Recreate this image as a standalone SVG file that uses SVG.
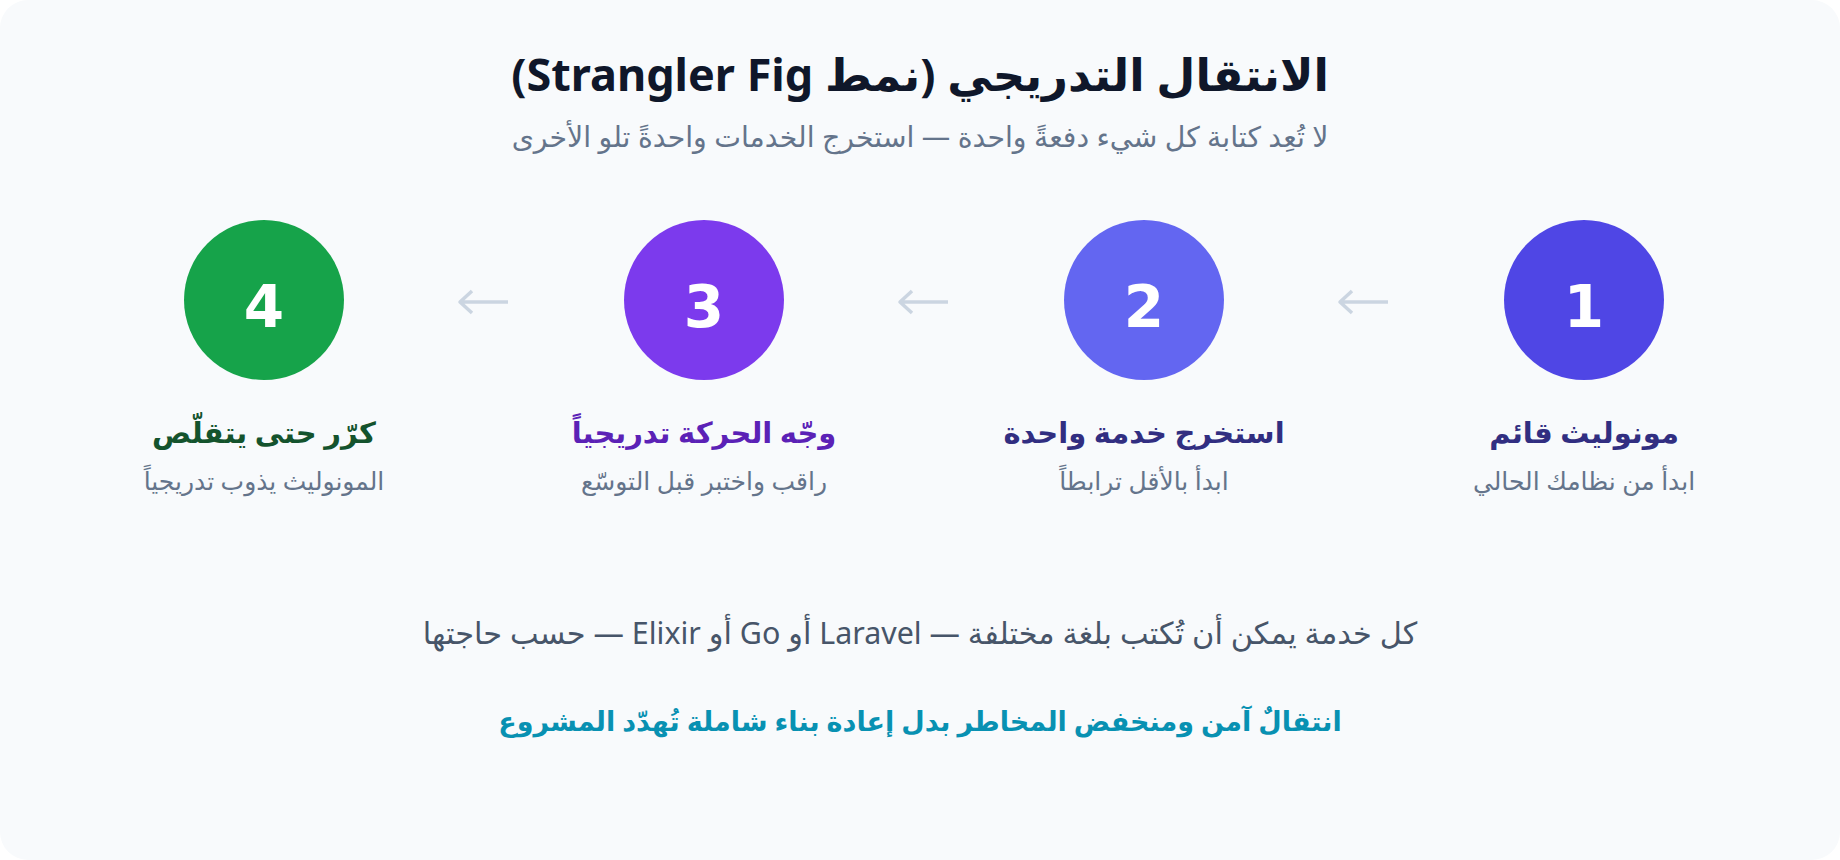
<svg xmlns="http://www.w3.org/2000/svg" width="1840" height="860" viewBox="0 0 1840 860">
<style>
text{font-family:"Noto Sans","DejaVu Sans",sans-serif;text-anchor:middle;direction:rtl}
.title{font-size:45px;font-weight:700;fill:#0f172a}
.sub{font-size:28.4px;fill:#64748b}
.num{font-family:"DejaVu Sans",sans-serif;font-size:58px;font-weight:700;fill:#ffffff;direction:ltr}
.st{font-size:29px;font-weight:700}
.sd{font-size:25px;fill:#64748b}
.note{font-size:30.4px;fill:#475569}
.key{font-size:27px;font-weight:700;fill:#0891b2}
.arr{fill:none;stroke:#cbd5e1;stroke-width:3.5;stroke-linejoin:round}
</style>
<rect x="0" y="0" width="1840" height="860" fill="#ffffff"/>
<rect x="0" y="0" width="1840" height="860" rx="28" ry="28" fill="#f8fafc"/>
<g id="header">
<text class="title" x="920" y="91">الانتقال التدريجي (نمط Strangler Fig)</text>
<text class="sub" x="920" y="147">لا تُعِد كتابة كل شيء دفعةً واحدة — استخرج الخدمات واحدةً تلو الأخرى</text>
</g>
<g id="connectors">
<path class="arr" d="M1388 302H1341M1352 291L1340 302L1352 313"/>
<path class="arr" d="M948 302H901M912 291L900 302L912 313"/>
<path class="arr" d="M508 302H461M472 291L460 302L472 313"/>
</g>
<g id="step1">
<circle cx="1584" cy="300" r="80" fill="#4f46e5"/>
<text class="num" x="1584" y="327">1</text>
<text class="st" x="1584" y="443" fill="#312e81">مونوليث قائم</text>
<text class="sd" x="1584" y="490">ابدأ من نظامك الحالي</text>
</g>
<g id="step2">
<circle cx="1144" cy="300" r="80" fill="#6366f1"/>
<text class="num" x="1144" y="327">2</text>
<text class="st" x="1144" y="443" fill="#312e81">استخرج خدمة واحدة</text>
<text class="sd" x="1144" y="490">ابدأ بالأقل ترابطاً</text>
</g>
<g id="step3">
<circle cx="704" cy="300" r="80" fill="#7c3aed"/>
<text class="num" x="704" y="327">3</text>
<text class="st" x="704" y="443" fill="#5b21b6">وجّه الحركة تدريجياً</text>
<text class="sd" x="704" y="490">راقب واختبر قبل التوسّع</text>
</g>
<g id="step4">
<circle cx="264" cy="300" r="80" fill="#16a34a"/>
<text class="num" x="264" y="327">4</text>
<text class="st" x="264" y="443" fill="#14532d">كرّر حتى يتقلّص</text>
<text class="sd" x="264" y="490">المونوليث يذوب تدريجياً</text>
</g>
<g id="footer">
<text class="note" x="920" y="644">كل خدمة يمكن أن تُكتب بلغة مختلفة — Laravel أو Go أو Elixir — حسب حاجتها</text>
<text class="key" x="920" y="731">انتقالٌ آمن ومنخفض المخاطر بدل إعادة بناء شاملة تُهدّد المشروع</text>
</g>
</svg>
